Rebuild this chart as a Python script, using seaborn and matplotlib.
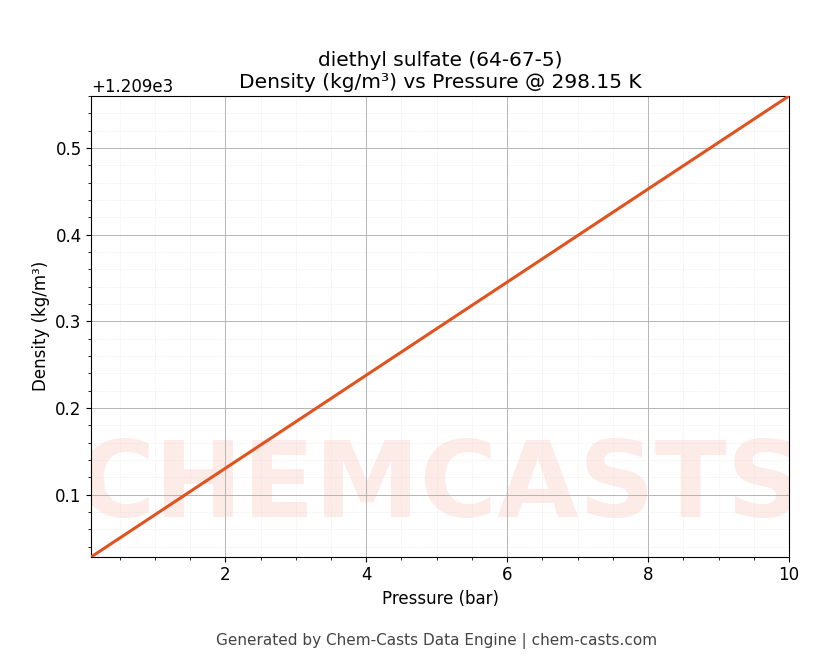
import numpy as np
import matplotlib
matplotlib.use("Agg")
import matplotlib.pyplot as plt
import seaborn as sns
from matplotlib.ticker import AutoMinorLocator

pressure_bar = [0.1, 10.0]
density = [1209.0285, 1209.56]

sns.set_style("ticks")
plt.rcParams['font.family'] = ['DejaVu Sans']
plt.rcParams['text.color'] = 'black'
plt.rcParams['axes.labelcolor'] = 'black'
plt.rcParams['xtick.color'] = 'black'
plt.rcParams['ytick.color'] = 'black'

fig, ax = plt.subplots(figsize=(8.16, 6.66), dpi=100)
fig.subplots_adjust(left=0.112, right=0.967, top=0.856, bottom=0.164)

sns.lineplot(x=pressure_bar, y=density, ax=ax, color='#e0531f', linewidth=2.2, zorder=3)

# faint watermark inside the axes
ax.text(0.5, 0.15, "CHEMCASTS", transform=ax.transAxes, fontsize=76, fontweight='bold',
        color='#fdebe8', ha='center', va='center', zorder=0, clip_on=True)

ax.set_xlim(pressure_bar[0], pressure_bar[-1])
ax.set_ylim(density[0], density[-1])
ax.xaxis.set_minor_locator(AutoMinorLocator())
ax.yaxis.set_minor_locator(AutoMinorLocator())
ax.grid(which='major', color='#aaaaaa', linewidth=0.6)
ax.grid(which='minor', color='#dddddd', linewidth=0.4, linestyle=':')
for s in ax.spines.values():
    s.set_visible(True)
    s.set_color('black')
ax.tick_params(labelsize=12)
ax.yaxis.get_offset_text().set_fontsize(12)

ax.set_title("diethyl sulfate (64-67-5)\nDensity (kg/m³) vs Pressure @ 298.15 K", fontsize=14.5)
ax.set_xlabel("Pressure (bar)", fontsize=12)
ax.set_ylabel("Density (kg/m³)", fontsize=12)
fig.text(0.535, 0.032, "Generated by Chem-Casts Data Engine | chem-casts.com",
         ha='center', fontsize=11, color='#444444')

fig.savefig("out.png", dpi=100)
